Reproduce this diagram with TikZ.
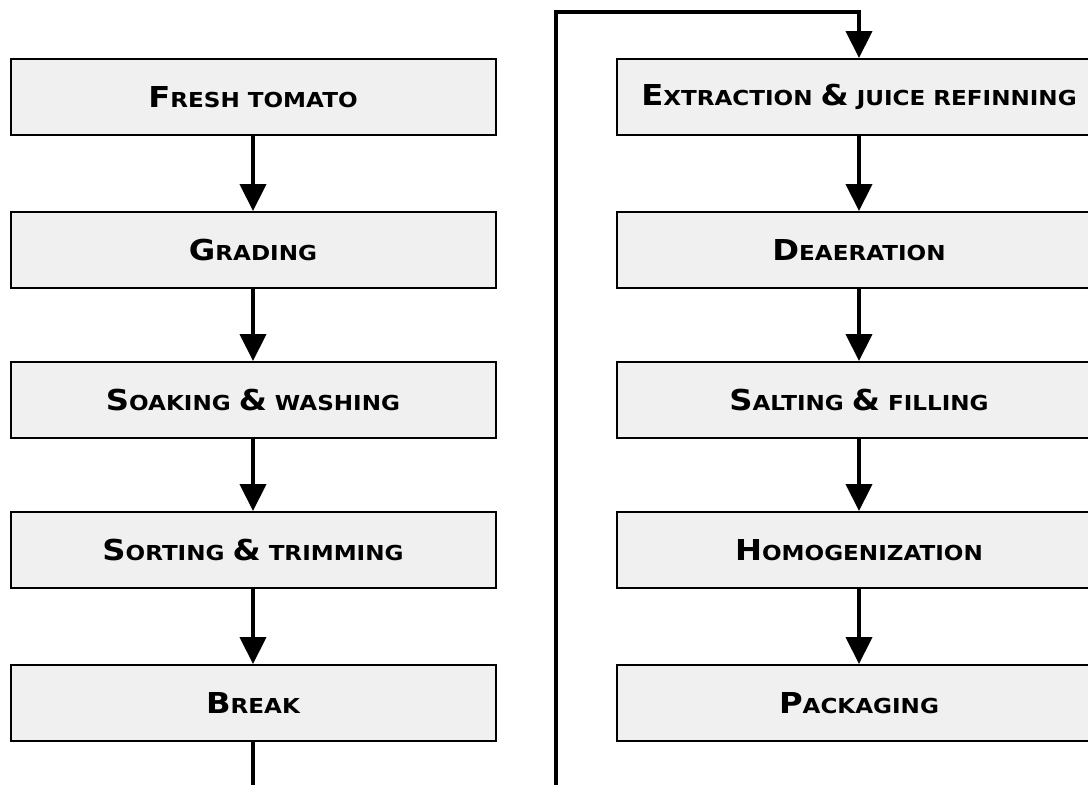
\documentclass[tikz,border=0pt]{standalone}
\usepackage{fontspec}
\setmainfont{DejaVu Sans}
\newfontfamily\boxfont{DejaVu Sans}[FakeStretch=1.12]
\usetikzlibrary{arrows.meta}
\newcommand{\stepini}[1]{{\fontsize{28.8}{30}\selectfont #1}}
\newcommand{\steprest}[1]{{\fontsize{20.6}{22}\selectfont #1}}
\begin{document}
\begin{tikzpicture}[x=1pt, y=-1pt,
	stepbox/.style={draw=black, line width=2pt, fill=black!6, minimum width=485pt, minimum height=76pt, inner sep=0pt, font=\boxfont\bfseries\fontsize{20.6}{22}\selectfont},
	flow/.style={-{Triangle[length=27pt, width=26pt]}, line width=4.3pt}]
	\clip (0,0) rectangle (1088,785);
	\fill[white] (0,0) rectangle (1088,785);
	\node[stepbox] (fresh) at (253,97) {\stepini{F}\steprest{RESH TOMATO}};
	\node[stepbox] (grad) at (253,250) {\stepini{G}\steprest{RADING}};
	\node[stepbox] (soak) at (253,400) {\stepini{S}\steprest{OAKING} \stepini{\&} \steprest{WASHING}};
	\node[stepbox] (sort) at (253,550) {\stepini{S}\steprest{ORTING} \stepini{\&} \steprest{TRIMMING}};
	\node[stepbox] (brk) at (253,703) {\stepini{B}\steprest{REAK}};
	\node[stepbox] (extr) at (859,97) {\stepini{E}\steprest{XTRACTION} \stepini{\&} \steprest{JUICE REFINNING}};
	\node[stepbox] (deaer) at (859,250) {\stepini{D}\steprest{EAERATION}};
	\node[stepbox] (salt) at (859,400) {\stepini{S}\steprest{ALTING} \stepini{\&} \steprest{FILLING}};
	\node[stepbox] (homo) at (859,550) {\stepini{H}\steprest{OMOGENIZATION}};
	\node[stepbox] (pack) at (859,703) {\stepini{P}\steprest{ACKAGING}};
	\coordinate (low) at (556,830);
	\coordinate (high) at (556,12);
	\draw[flow] (fresh) -- (grad);
	\draw[flow] (grad) -- (soak);
	\draw[flow] (soak) -- (sort);
	\draw[flow] (sort) -- (brk);
	\draw[flow] (brk.south) |- (low) -- (high) -| (extr.north);
	\draw[flow] (extr) -- (deaer);
	\draw[flow] (deaer) -- (salt);
	\draw[flow] (salt) -- (homo);
	\draw[flow] (homo) -- (pack);
\end{tikzpicture}
\end{document}
